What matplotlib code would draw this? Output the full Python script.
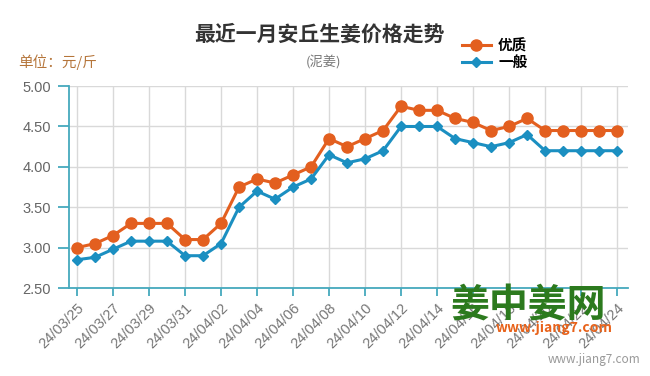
import matplotlib
matplotlib.use('Agg')
import matplotlib.pyplot as plt

plt.rcParams['font.family'] = ['Noto Sans CJK SC', 'DejaVu Sans']

# data
dates = ['24/03/25', '24/03/26', '24/03/27', '24/03/28', '24/03/29', '24/03/30',
         '24/03/31', '24/04/01', '24/04/02', '24/04/03', '24/04/04', '24/04/05',
         '24/04/06', '24/04/07', '24/04/08', '24/04/09', '24/04/10', '24/04/11',
         '24/04/12', '24/04/13', '24/04/14', '24/04/15', '24/04/16', '24/04/17',
         '24/04/18', '24/04/19', '24/04/20', '24/04/21', '24/04/22', '24/04/23',
         '24/04/24']
youzhi = [3.00, 3.05, 3.15, 3.30, 3.30, 3.30, 3.10, 3.10, 3.30, 3.75, 3.85,
          3.80, 3.90, 4.00, 4.35, 4.25, 4.35, 4.45, 4.75, 4.70, 4.70, 4.60,
          4.55, 4.45, 4.50, 4.60, 4.45, 4.45, 4.45, 4.45, 4.45]
yiban = [2.85, 2.88, 2.98, 3.08, 3.08, 3.08, 2.90, 2.90, 3.05, 3.50, 3.70,
         3.60, 3.75, 3.85, 4.15, 4.05, 4.10, 4.20, 4.50, 4.50, 4.50, 4.35,
         4.30, 4.25, 4.30, 4.40, 4.20, 4.20, 4.20, 4.20, 4.20]
yticks = [2.50, 3.00, 3.50, 4.00, 4.50, 5.00]

orange = '#e35f1f'
blue = '#1b8fc1'
teal = '#45a9bd'

fig = plt.figure(figsize=(6.5, 3.76), dpi=100)
ax = fig.add_axes([0.106, 0.234, 0.86, 0.537])

x = list(range(len(dates)))
ax.plot(x, youzhi, color=orange, lw=2.2, marker='o', ms=8, label='优质', zorder=3)
ax.plot(x, yiban, color=blue, lw=2.2, marker='D', ms=5.5, label='一般', zorder=3)

ax.set_ylim(2.5, 5.0)
ax.set_xlim(-0.45, 30.6)
ax.set_yticks(yticks)
ax.set_yticklabels(['%.2f' % v for v in yticks], family='Liberation Sans')
ax.set_xticks(x[::2])
ax.set_xticklabels(dates[::2], rotation=45, ha='right', rotation_mode='anchor',
                   family='Liberation Sans')

ax.grid(True, color='#d9d9d9', lw=1)
ax.set_axisbelow(True)
for s in ['top', 'right']:
    ax.spines[s].set_visible(False)
for s in ['left', 'bottom']:
    ax.spines[s].set_color(teal)
    ax.spines[s].set_linewidth(1.3)
ax.tick_params(axis='y', colors=teal, length=8, width=1.3, labelcolor='#666666',
               labelsize=10.5, pad=5)
ax.tick_params(axis='x', colors=teal, length=6, width=1.3, labelcolor='#777777',
               labelsize=10.5, pad=3)

fig.text(0.492, 0.91, '最近一月安丘生姜价格走势', ha='center', va='center',
         fontsize=15, fontweight='bold', color='#333333')
fig.text(0.497, 0.835, '(泥姜)', ha='center', va='center', fontsize=9.5, color='#777777')
fig.text(0.028, 0.835, '单位：元/斤', ha='left', va='center', fontsize=10.5, color='#b5753a')

fig.legend(loc='upper left', bbox_to_anchor=(0.69, 0.935), frameon=False,
           handlelength=2.0, handletextpad=0.5, labelspacing=0.05,
           prop={'family': 'Noto Sans CJK SC', 'weight': 'bold', 'size': 10.5})

# watermark
fig.text(0.693, 0.185, '姜中姜网', ha='left', va='center', fontsize=28,
         fontweight='bold', color='#2c7a1e', zorder=10)
fig.text(0.762, 0.128, 'www.jiang7.com', ha='left', va='center', fontsize=10,
         fontweight='bold', style='italic', color='#e8621a', zorder=10)
fig.text(0.985, 0.045, 'www.jiang7.com', ha='right', va='center', fontsize=8.5,
         color='#999999')

fig.savefig('out.png', dpi=100)
